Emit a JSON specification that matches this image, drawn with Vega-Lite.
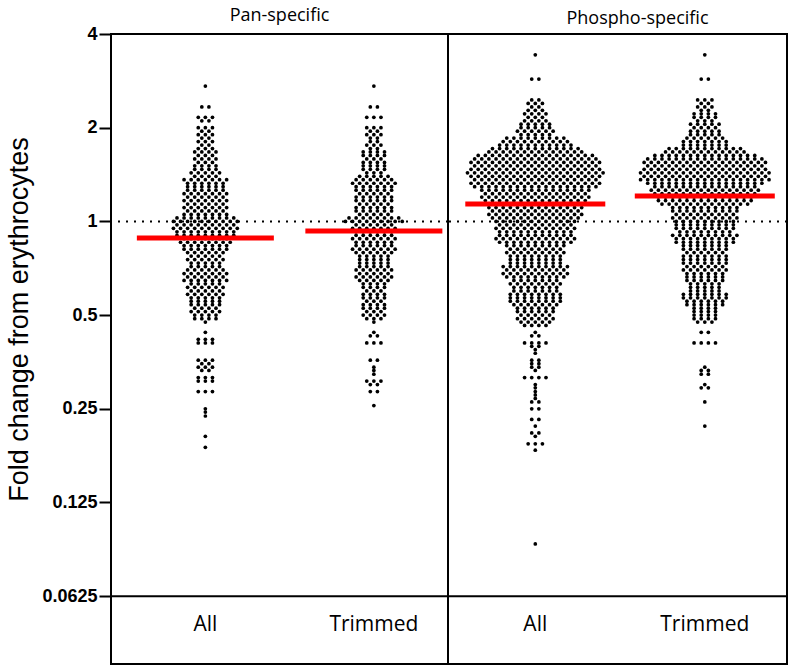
{
"$schema":"https://vega.github.io/schema/vega-lite/v6.json",
"padding":{"left":4,"top":6,"right":5,"bottom":0},
"spacing":0,
"bounds":"flush",
"background":"white",
"config":{"view":{"stroke":"black","strokeWidth":2},"axis":{"grid":false}},
"resolve":{"scale":{"x":"independent","xOffset":"independent","y":"independent"}},
"datasets":{
"panAll":[2.722,2.333,2.333,2.16,2.16,2.16,2.105,2.105,2,2,2,1.949,1.949,1.9,1.9,1.9,1.852,1.852,1.805,1.805,1.805,1.759,1.759,1.714,1.714,1.714,1.671,1.671,1.671,1.671,1.629,1.629,1.629,1.587,1.587,1.587,1.587,1.547,1.547,1.547,1.508,1.508,1.508,1.508,1.47,1.47,1.47,1.47,1.432,1.432,1.432,1.432,1.432,1.396,1.396,1.396,1.396,1.361,1.361,1.361,1.361,1.361,1.361,1.361,1.326,1.326,1.326,1.326,1.326,1.326,1.293,1.293,1.293,1.293,1.293,1.293,1.26,1.26,1.26,1.26,1.26,1.26,1.228,1.228,1.228,1.228,1.228,1.228,1.228,1.197,1.197,1.197,1.197,1.197,1.197,1.167,1.167,1.167,1.167,1.167,1.167,1.167,1.137,1.137,1.137,1.137,1.137,1.137,1.108,1.108,1.108,1.108,1.108,1.108,1.108,1.08,1.08,1.08,1.08,1.08,1.08,1.053,1.053,1.053,1.053,1.053,1.053,1.053,1.026,1.026,1.026,1.026,1.026,1.026,1.026,1.026,1.026,1,1,1,1,1,1,1,1,1,1,0.975,0.975,0.975,0.975,0.975,0.975,0.975,0.975,0.975,0.95,0.95,0.95,0.95,0.95,0.95,0.95,0.95,0.95,0.95,0.926,0.926,0.926,0.926,0.926,0.926,0.926,0.926,0.926,0.902,0.902,0.902,0.902,0.902,0.902,0.902,0.902,0.902,0.88,0.88,0.88,0.88,0.88,0.88,0.88,0.857,0.857,0.857,0.857,0.857,0.857,0.857,0.857,0.836,0.836,0.836,0.836,0.836,0.836,0.836,0.814,0.814,0.814,0.814,0.814,0.814,0.814,0.794,0.794,0.794,0.794,0.794,0.794,0.774,0.774,0.774,0.774,0.774,0.754,0.754,0.754,0.754,0.754,0.754,0.735,0.735,0.735,0.735,0.735,0.716,0.716,0.716,0.716,0.716,0.698,0.698,0.698,0.698,0.698,0.698,0.68,0.68,0.68,0.68,0.68,0.68,0.68,0.663,0.663,0.663,0.663,0.663,0.663,0.646,0.646,0.646,0.646,0.646,0.646,0.646,0.63,0.63,0.63,0.63,0.63,0.614,0.614,0.614,0.614,0.614,0.614,0.598,0.598,0.598,0.598,0.598,0.583,0.583,0.583,0.583,0.583,0.583,0.568,0.568,0.568,0.568,0.568,0.554,0.554,0.554,0.554,0.554,0.54,0.54,0.54,0.54,0.54,0.526,0.526,0.526,0.526,0.513,0.513,0.513,0.513,0.513,0.5,0.5,0.5,0.5,0.487,0.487,0.487,0.487,0.475,0.44,0.418,0.418,0.418,0.407,0.407,0.407,0.358,0.358,0.358,0.349,0.349,0.34,0.34,0.34,0.332,0.332,0.315,0.315,0.315,0.307,0.307,0.307,0.284,0.284,0.284,0.25,0.244,0.237,0.204,0.188],
"panTrim":[2.722,2.333,2.333,2.16,2.16,2.16,2,2,2,1.949,1.949,1.9,1.9,1.9,1.852,1.852,1.805,1.805,1.759,1.759,1.759,1.714,1.714,1.671,1.671,1.671,1.671,1.629,1.629,1.629,1.629,1.587,1.587,1.587,1.547,1.547,1.547,1.547,1.508,1.508,1.508,1.508,1.47,1.47,1.47,1.47,1.432,1.432,1.432,1.396,1.396,1.396,1.396,1.396,1.361,1.361,1.361,1.361,1.361,1.361,1.326,1.326,1.326,1.326,1.326,1.326,1.326,1.293,1.293,1.293,1.293,1.293,1.293,1.26,1.26,1.26,1.26,1.26,1.26,1.228,1.228,1.228,1.228,1.228,1.197,1.197,1.197,1.197,1.197,1.197,1.167,1.167,1.167,1.167,1.167,1.167,1.137,1.137,1.137,1.137,1.137,1.108,1.108,1.108,1.108,1.108,1.108,1.08,1.08,1.08,1.08,1.08,1.08,1.053,1.053,1.053,1.053,1.053,1.026,1.026,1.026,1.026,1.026,1.026,1.026,1.026,1,1,1,1,1,1,1,1,1,0.975,0.975,0.975,0.975,0.975,0.975,0.95,0.95,0.95,0.95,0.95,0.95,0.95,0.926,0.926,0.926,0.926,0.926,0.926,0.902,0.902,0.902,0.902,0.902,0.902,0.88,0.88,0.88,0.88,0.88,0.88,0.88,0.857,0.857,0.857,0.857,0.857,0.857,0.836,0.836,0.836,0.836,0.836,0.836,0.814,0.814,0.814,0.814,0.814,0.814,0.814,0.794,0.794,0.794,0.794,0.794,0.794,0.774,0.774,0.774,0.774,0.774,0.754,0.754,0.754,0.754,0.754,0.735,0.735,0.735,0.735,0.735,0.716,0.716,0.716,0.716,0.716,0.698,0.698,0.698,0.698,0.698,0.698,0.68,0.68,0.68,0.68,0.68,0.663,0.663,0.663,0.663,0.663,0.663,0.646,0.646,0.646,0.646,0.646,0.63,0.63,0.63,0.63,0.614,0.614,0.614,0.614,0.598,0.598,0.598,0.583,0.583,0.583,0.583,0.568,0.568,0.568,0.568,0.554,0.554,0.554,0.54,0.54,0.54,0.54,0.526,0.526,0.526,0.526,0.513,0.513,0.513,0.5,0.5,0.5,0.5,0.487,0.487,0.487,0.475,0.44,0.429,0.429,0.407,0.407,0.407,0.358,0.358,0.34,0.332,0.323,0.307,0.307,0.307,0.299,0.299,0.284,0.284,0.256],
"phAll":[3.429,2.865,2.865,2.456,2.456,2.394,2.394,2.394,2.333,2.333,2.274,2.274,2.274,2.216,2.216,2.216,2.216,2.16,2.16,2.16,2.105,2.105,2.105,2.105,2.052,2.052,2.052,2.052,2.052,2,2,2,2,2,1.949,1.949,1.949,1.949,1.949,1.949,1.9,1.9,1.9,1.9,1.9,1.852,1.852,1.852,1.852,1.852,1.852,1.852,1.852,1.852,1.805,1.805,1.805,1.805,1.805,1.805,1.805,1.805,1.805,1.805,1.759,1.759,1.759,1.759,1.759,1.759,1.759,1.759,1.759,1.759,1.759,1.714,1.714,1.714,1.714,1.714,1.714,1.714,1.714,1.714,1.714,1.714,1.714,1.714,1.671,1.671,1.671,1.671,1.671,1.671,1.671,1.671,1.671,1.671,1.671,1.671,1.671,1.671,1.629,1.629,1.629,1.629,1.629,1.629,1.629,1.629,1.629,1.629,1.629,1.629,1.629,1.629,1.629,1.629,1.629,1.587,1.587,1.587,1.587,1.587,1.587,1.587,1.587,1.587,1.587,1.587,1.587,1.587,1.587,1.587,1.587,1.587,1.587,1.547,1.547,1.547,1.547,1.547,1.547,1.547,1.547,1.547,1.547,1.547,1.547,1.547,1.547,1.547,1.547,1.547,1.547,1.547,1.508,1.508,1.508,1.508,1.508,1.508,1.508,1.508,1.508,1.508,1.508,1.508,1.508,1.508,1.508,1.508,1.508,1.508,1.47,1.47,1.47,1.47,1.47,1.47,1.47,1.47,1.47,1.47,1.47,1.47,1.47,1.47,1.47,1.47,1.47,1.47,1.47,1.432,1.432,1.432,1.432,1.432,1.432,1.432,1.432,1.432,1.432,1.432,1.432,1.432,1.432,1.432,1.432,1.432,1.432,1.432,1.432,1.396,1.396,1.396,1.396,1.396,1.396,1.396,1.396,1.396,1.396,1.396,1.396,1.396,1.396,1.396,1.396,1.396,1.396,1.396,1.361,1.361,1.361,1.361,1.361,1.361,1.361,1.361,1.361,1.361,1.361,1.361,1.361,1.361,1.361,1.361,1.361,1.361,1.326,1.326,1.326,1.326,1.326,1.326,1.326,1.326,1.326,1.326,1.326,1.326,1.326,1.326,1.326,1.326,1.326,1.326,1.326,1.293,1.293,1.293,1.293,1.293,1.293,1.293,1.293,1.293,1.293,1.293,1.293,1.293,1.293,1.293,1.293,1.293,1.293,1.26,1.26,1.26,1.26,1.26,1.26,1.26,1.26,1.26,1.26,1.26,1.26,1.26,1.26,1.26,1.26,1.228,1.228,1.228,1.228,1.228,1.228,1.228,1.228,1.228,1.228,1.228,1.228,1.228,1.228,1.228,1.197,1.197,1.197,1.197,1.197,1.197,1.197,1.197,1.197,1.197,1.197,1.197,1.197,1.197,1.197,1.197,1.167,1.167,1.167,1.167,1.167,1.167,1.167,1.167,1.167,1.167,1.167,1.167,1.167,1.167,1.167,1.137,1.137,1.137,1.137,1.137,1.137,1.137,1.137,1.137,1.137,1.137,1.137,1.137,1.137,1.137,1.108,1.108,1.108,1.108,1.108,1.108,1.108,1.108,1.108,1.108,1.108,1.108,1.108,1.108,1.08,1.08,1.08,1.08,1.08,1.08,1.08,1.08,1.08,1.08,1.08,1.08,1.08,1.053,1.053,1.053,1.053,1.053,1.053,1.053,1.053,1.053,1.053,1.053,1.053,1.053,1.053,1.026,1.026,1.026,1.026,1.026,1.026,1.026,1.026,1.026,1.026,1.026,1.026,1.026,1,1,1,1,1,1,1,1,1,1,1,1,0.975,0.975,0.975,0.975,0.975,0.975,0.975,0.975,0.975,0.975,0.975,0.95,0.95,0.95,0.95,0.95,0.95,0.95,0.95,0.95,0.95,0.95,0.95,0.926,0.926,0.926,0.926,0.926,0.926,0.926,0.926,0.926,0.926,0.926,0.902,0.902,0.902,0.902,0.902,0.902,0.902,0.902,0.902,0.902,0.902,0.88,0.88,0.88,0.88,0.88,0.88,0.88,0.88,0.88,0.88,0.88,0.88,0.857,0.857,0.857,0.857,0.857,0.857,0.857,0.857,0.857,0.857,0.857,0.836,0.836,0.836,0.836,0.836,0.836,0.836,0.836,0.836,0.814,0.814,0.814,0.814,0.814,0.814,0.814,0.814,0.794,0.794,0.794,0.794,0.794,0.794,0.794,0.794,0.794,0.774,0.774,0.774,0.774,0.774,0.774,0.774,0.774,0.754,0.754,0.754,0.754,0.754,0.754,0.754,0.754,0.735,0.735,0.735,0.735,0.735,0.735,0.735,0.735,0.716,0.716,0.716,0.716,0.716,0.716,0.716,0.716,0.716,0.716,0.698,0.698,0.698,0.698,0.698,0.698,0.698,0.698,0.698,0.68,0.68,0.68,0.68,0.68,0.68,0.68,0.68,0.68,0.68,0.663,0.663,0.663,0.663,0.663,0.663,0.663,0.663,0.663,0.646,0.646,0.646,0.646,0.646,0.646,0.646,0.63,0.63,0.63,0.63,0.63,0.63,0.63,0.63,0.614,0.614,0.614,0.614,0.614,0.614,0.614,0.598,0.598,0.598,0.598,0.598,0.598,0.598,0.583,0.583,0.583,0.583,0.583,0.583,0.583,0.583,0.568,0.568,0.568,0.568,0.568,0.568,0.568,0.568,0.554,0.554,0.554,0.554,0.554,0.554,0.554,0.554,0.54,0.54,0.54,0.54,0.54,0.54,0.54,0.526,0.526,0.526,0.526,0.526,0.526,0.513,0.513,0.513,0.513,0.513,0.513,0.5,0.5,0.5,0.5,0.5,0.487,0.487,0.487,0.487,0.487,0.487,0.475,0.475,0.475,0.475,0.475,0.463,0.463,0.463,0.463,0.44,0.429,0.429,0.407,0.407,0.407,0.407,0.397,0.397,0.387,0.377,0.358,0.358,0.349,0.349,0.34,0.34,0.332,0.315,0.315,0.315,0.315,0.299,0.292,0.284,0.277,0.27,0.263,0.263,0.25,0.25,0.231,0.231,0.22,0.209,0.209,0.204,0.193,0.193,0.193,0.184,0.092],
"phTrim":[3.429,2.865,2.865,2.456,2.456,2.456,2.394,2.394,2.333,2.333,2.333,2.274,2.274,2.216,2.216,2.216,2.216,2.16,2.16,2.16,2.16,2.105,2.105,2.105,2.052,2.052,2.052,2.052,2.052,2,2,2,2,1.949,1.949,1.949,1.949,1.949,1.9,1.9,1.9,1.9,1.9,1.852,1.852,1.852,1.852,1.852,1.852,1.805,1.805,1.805,1.805,1.805,1.805,1.805,1.759,1.759,1.759,1.759,1.759,1.759,1.759,1.714,1.714,1.714,1.714,1.714,1.714,1.714,1.714,1.714,1.714,1.714,1.671,1.671,1.671,1.671,1.671,1.671,1.671,1.671,1.671,1.671,1.671,1.671,1.629,1.629,1.629,1.629,1.629,1.629,1.629,1.629,1.629,1.629,1.629,1.629,1.629,1.629,1.629,1.587,1.587,1.587,1.587,1.587,1.587,1.587,1.587,1.587,1.587,1.587,1.587,1.587,1.587,1.587,1.587,1.587,1.547,1.547,1.547,1.547,1.547,1.547,1.547,1.547,1.547,1.547,1.547,1.547,1.547,1.547,1.547,1.547,1.547,1.547,1.508,1.508,1.508,1.508,1.508,1.508,1.508,1.508,1.508,1.508,1.508,1.508,1.508,1.508,1.508,1.508,1.508,1.47,1.47,1.47,1.47,1.47,1.47,1.47,1.47,1.47,1.47,1.47,1.47,1.47,1.47,1.47,1.47,1.47,1.47,1.432,1.432,1.432,1.432,1.432,1.432,1.432,1.432,1.432,1.432,1.432,1.432,1.432,1.432,1.432,1.432,1.432,1.432,1.432,1.396,1.396,1.396,1.396,1.396,1.396,1.396,1.396,1.396,1.396,1.396,1.396,1.396,1.396,1.396,1.396,1.396,1.396,1.361,1.361,1.361,1.361,1.361,1.361,1.361,1.361,1.361,1.361,1.361,1.361,1.361,1.361,1.361,1.361,1.361,1.361,1.361,1.326,1.326,1.326,1.326,1.326,1.326,1.326,1.326,1.326,1.326,1.326,1.326,1.326,1.326,1.326,1.326,1.326,1.293,1.293,1.293,1.293,1.293,1.293,1.293,1.293,1.293,1.293,1.293,1.293,1.293,1.293,1.293,1.26,1.26,1.26,1.26,1.26,1.26,1.26,1.26,1.26,1.26,1.26,1.26,1.26,1.26,1.26,1.26,1.228,1.228,1.228,1.228,1.228,1.228,1.228,1.228,1.228,1.228,1.228,1.228,1.228,1.228,1.228,1.197,1.197,1.197,1.197,1.197,1.197,1.197,1.197,1.197,1.197,1.197,1.197,1.197,1.197,1.167,1.167,1.167,1.167,1.167,1.167,1.167,1.167,1.167,1.167,1.167,1.167,1.167,1.167,1.137,1.137,1.137,1.137,1.137,1.137,1.137,1.137,1.137,1.137,1.137,1.137,1.137,1.108,1.108,1.108,1.108,1.108,1.108,1.108,1.108,1.108,1.108,1.08,1.08,1.08,1.08,1.08,1.08,1.08,1.08,1.08,1.08,1.053,1.053,1.053,1.053,1.053,1.053,1.053,1.053,1.053,1.026,1.026,1.026,1.026,1.026,1.026,1.026,1.026,1.026,1.026,1,1,1,1,1,1,1,1,1,0.975,0.975,0.975,0.975,0.975,0.975,0.975,0.975,0.975,0.95,0.95,0.95,0.95,0.95,0.95,0.95,0.95,0.95,0.926,0.926,0.926,0.926,0.926,0.926,0.926,0.926,0.902,0.902,0.902,0.902,0.902,0.902,0.902,0.902,0.902,0.902,0.88,0.88,0.88,0.88,0.88,0.88,0.88,0.88,0.88,0.857,0.857,0.857,0.857,0.857,0.857,0.857,0.857,0.857,0.836,0.836,0.836,0.836,0.836,0.836,0.836,0.814,0.814,0.814,0.814,0.814,0.814,0.814,0.794,0.794,0.794,0.794,0.794,0.794,0.774,0.774,0.774,0.774,0.774,0.774,0.774,0.754,0.754,0.754,0.754,0.754,0.754,0.754,0.735,0.735,0.735,0.735,0.735,0.735,0.735,0.716,0.716,0.716,0.716,0.716,0.716,0.698,0.698,0.698,0.698,0.698,0.698,0.698,0.68,0.68,0.68,0.68,0.68,0.68,0.663,0.663,0.663,0.663,0.663,0.663,0.646,0.646,0.646,0.646,0.646,0.646,0.63,0.63,0.63,0.63,0.63,0.614,0.614,0.614,0.614,0.614,0.598,0.598,0.598,0.598,0.598,0.583,0.583,0.583,0.583,0.583,0.583,0.583,0.568,0.568,0.568,0.568,0.568,0.568,0.568,0.554,0.554,0.554,0.554,0.554,0.554,0.54,0.54,0.54,0.54,0.54,0.54,0.526,0.526,0.526,0.526,0.513,0.513,0.513,0.513,0.5,0.5,0.5,0.5,0.487,0.487,0.487,0.487,0.475,0.475,0.475,0.44,0.44,0.407,0.407,0.407,0.407,0.34,0.332,0.332,0.323,0.323,0.299,0.292,0.292,0.263,0.22],
"med":[{"p":"Pan","g":"All","m":0.884},{"p":"Pan","g":"Trimmed","m":0.932},{"p":"Phospho","g":"All","m":1.138},{"p":"Phospho","g":"Trimmed","m":1.207}]
},
"hconcat":[
{
"width":337,"height":630,
"title":{"text":"Pan-specific","font":"Open Sans","fontSize":18,"fontWeight":"normal","color":"black","offset":0,"frame":"group","anchor":"middle"},
"layer":[
{"data":{"name":"panAll"},
"transform":[{"window":[{"op":"row_number","as":"r"}],"groupby":["data"]},{"joinaggregate":[{"op":"count","as":"n"}],"groupby":["data"]},{"calculate":"datum.r - (datum.n + 1) / 2","as":"o"}],
"mark":{"type":"circle","size":14,"opacity":1,"color":"black"},
"encoding":{
"x":{"datum":"All","type":"nominal","scale":{"domain":["All","Trimmed"],"paddingInner":0.2,"paddingOuter":0.1,"align":0.8},"axis":{"title":null,"domain":false,"ticks":false,"labelAngle":0,"labelFont":"Open Sans","labelFontSize":21,"labelColor":"black","offset":-40,"labelPadding":0,"labelBaseline":"middle"}},
"xOffset":{"field":"o","type":"quantitative","scale":{"domain":[-9.5,9.5]}},
"y":{"field":"data","type":"quantitative","scale":{"type":"log","base":2,"domain":[0.03784,4],"nice":false},"axis":{"values":[0.0625,0.125,0.25,0.5,1,2,4],"format":"~g","title":"Fold change from erythrocytes","titleFont":"Liberation Sans","titleFontSize":27,"titleFontWeight":"normal","titleColor":"black","titleY":285,"titlePadding":8,"labelFont":"Liberation Sans","labelFontSize":18,"labelFontWeight":"bold","labelColor":"black","labelPadding":2,"tickColor":"black","tickWidth":2,"tickSize":12,"domain":false,"grid":false}}
}},
{"data":{"name":"panTrim"},
"transform":[{"window":[{"op":"row_number","as":"r"}],"groupby":["data"]},{"joinaggregate":[{"op":"count","as":"n"}],"groupby":["data"]},{"calculate":"datum.r - (datum.n + 1) / 2","as":"o"}],
"mark":{"type":"circle","size":14,"opacity":1,"color":"black"},
"encoding":{
"x":{"datum":"Trimmed","type":"nominal"},
"xOffset":{"field":"o","type":"quantitative"},
"y":{"field":"data","type":"quantitative"}
}},
{"data":{"name":"med"},
"transform":[{"filter":"datum.p == 'Pan'"}],
"mark":{"type":"tick","color":"#ff0000","thickness":5,"size":137,"opacity":1},
"encoding":{"x":{"field":"g","type":"nominal"},"y":{"field":"m","type":"quantitative"}}},
{"data":{"values":[{}]},
"mark":{"type":"rule","color":"black","strokeWidth":2,"strokeDash":[2,6]},
"encoding":{"y":{"datum":1}}},
{"data":{"values":[{}]},
"mark":{"type":"rule","color":"black","strokeWidth":2},
"encoding":{"y":{"datum":0.0625}}}
]
},
{
"width":339,"height":630,
"title":{"text":"Phospho-specific","font":"Open Sans","fontSize":18,"fontWeight":"normal","color":"black","offset":6,"frame":"group","anchor":"middle","dx":20},
"layer":[
{"data":{"name":"phAll"},
"transform":[{"window":[{"op":"row_number","as":"r"}],"groupby":["data"]},{"joinaggregate":[{"op":"count","as":"n"}],"groupby":["data"]},{"calculate":"datum.r - (datum.n + 1) / 2","as":"o"}],
"mark":{"type":"circle","size":14,"opacity":1,"color":"black"},
"encoding":{
"x":{"datum":"All","type":"nominal","scale":{"domain":["All","Trimmed"],"paddingInner":0.2,"paddingOuter":0.1,"align":0.575},"axis":{"title":null,"domain":false,"ticks":false,"labelAngle":0,"labelFont":"Open Sans","labelFontSize":21,"labelColor":"black","offset":-40,"labelPadding":0,"labelBaseline":"middle"}},
"xOffset":{"field":"o","type":"quantitative","scale":{"domain":[-9.5,9.5]}},
"y":{"field":"data","type":"quantitative","scale":{"type":"log","base":2,"domain":[0.03784,4],"nice":false},"axis":null}
}},
{"data":{"name":"phTrim"},
"transform":[{"window":[{"op":"row_number","as":"r"}],"groupby":["data"]},{"joinaggregate":[{"op":"count","as":"n"}],"groupby":["data"]},{"calculate":"datum.r - (datum.n + 1) / 2","as":"o"}],
"mark":{"type":"circle","size":14,"opacity":1,"color":"black"},
"encoding":{
"x":{"datum":"Trimmed","type":"nominal"},
"xOffset":{"field":"o","type":"quantitative"},
"y":{"field":"data","type":"quantitative"}
}},
{"data":{"name":"med"},
"transform":[{"filter":"datum.p == 'Phospho'"}],
"mark":{"type":"tick","color":"#ff0000","thickness":5,"size":140,"opacity":1},
"encoding":{"x":{"field":"g","type":"nominal"},"y":{"field":"m","type":"quantitative"}}},
{"data":{"values":[{}]},
"mark":{"type":"rule","color":"black","strokeWidth":2,"strokeDash":[2,6]},
"encoding":{"y":{"datum":1}}},
{"data":{"values":[{}]},
"mark":{"type":"rule","color":"black","strokeWidth":2},
"encoding":{"y":{"datum":0.0625}}}
]
}
]
}
